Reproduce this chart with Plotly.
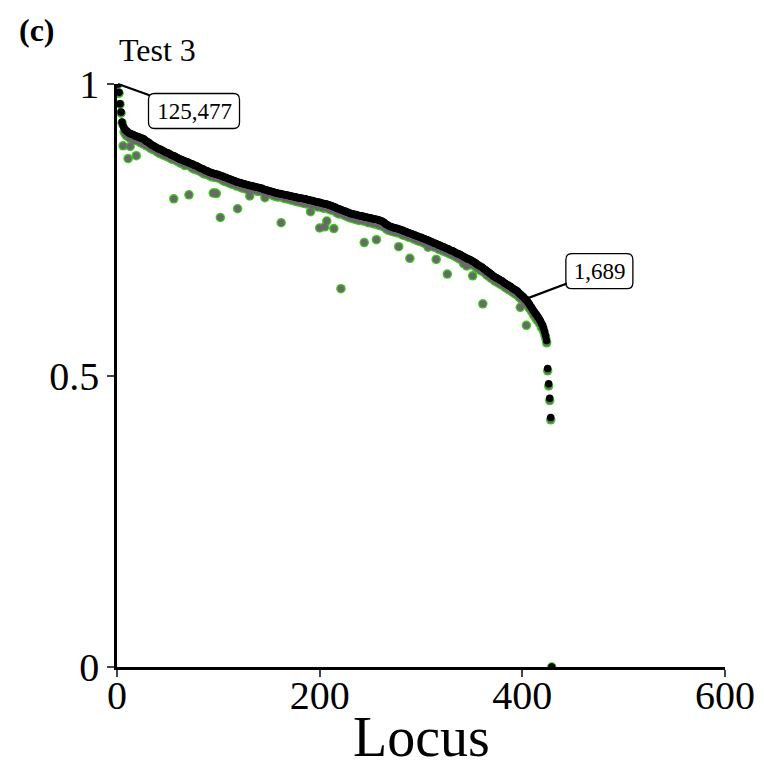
import plotly.graph_objects as go

# Per-locus scores, sorted on the black series (the fitted/ordered curve)
black_vals = [
    1.000, 0.986, 0.966, 0.952, 0.935, 0.928, 0.925, 0.922, 0.920, 0.919,
    0.917, 0.916, 0.915, 0.914, 0.914, 0.913, 0.912, 0.911, 0.911, 0.910,
    0.909, 0.909, 0.908, 0.907, 0.907, 0.906, 0.905, 0.903, 0.902, 0.901,
    0.900, 0.899, 0.897, 0.896, 0.895, 0.894, 0.893, 0.892, 0.891, 0.890,
    0.889, 0.888, 0.888, 0.887, 0.886, 0.885, 0.884, 0.883, 0.882, 0.882,
    0.881, 0.880, 0.879, 0.878, 0.877, 0.877, 0.876, 0.875, 0.874, 0.873,
    0.872, 0.871, 0.871, 0.870, 0.869, 0.868, 0.868, 0.867, 0.866, 0.866,
    0.865, 0.864, 0.863, 0.863, 0.862, 0.861, 0.860, 0.860, 0.859, 0.858,
    0.857, 0.856, 0.855, 0.855, 0.854, 0.853, 0.852, 0.851, 0.851, 0.850,
    0.849, 0.848, 0.848, 0.847, 0.847, 0.846, 0.846, 0.845, 0.845, 0.844,
    0.844, 0.843, 0.842, 0.842, 0.841, 0.840, 0.840, 0.839, 0.838, 0.838,
    0.837, 0.836, 0.836, 0.835, 0.834, 0.834, 0.833, 0.832, 0.832, 0.831,
    0.831, 0.830, 0.830, 0.829, 0.829, 0.828, 0.828, 0.827, 0.827, 0.826,
    0.826, 0.826, 0.825, 0.825, 0.824, 0.824, 0.823, 0.823, 0.823, 0.822,
    0.822, 0.821, 0.821, 0.820, 0.819, 0.819, 0.818, 0.818, 0.817, 0.817,
    0.816, 0.816, 0.815, 0.815, 0.814, 0.814, 0.813, 0.813, 0.812, 0.812,
    0.812, 0.811, 0.811, 0.811, 0.810, 0.810, 0.809, 0.809, 0.809, 0.808,
    0.808, 0.808, 0.807, 0.807, 0.806, 0.806, 0.806, 0.805, 0.805, 0.805,
    0.804, 0.804, 0.804, 0.803, 0.803, 0.803, 0.802, 0.802, 0.801, 0.801,
    0.800, 0.800, 0.800, 0.799, 0.799, 0.798, 0.798, 0.797, 0.797, 0.797,
    0.796, 0.796, 0.795, 0.795, 0.794, 0.794, 0.794, 0.793, 0.793, 0.792,
    0.791, 0.791, 0.790, 0.789, 0.789, 0.788, 0.787, 0.786, 0.786, 0.785,
    0.784, 0.784, 0.783, 0.782, 0.782, 0.781, 0.780, 0.780, 0.779, 0.778,
    0.778, 0.777, 0.777, 0.776, 0.776, 0.776, 0.775, 0.775, 0.774, 0.774,
    0.774, 0.773, 0.773, 0.772, 0.772, 0.772, 0.771, 0.771, 0.770, 0.770,
    0.770, 0.769, 0.769, 0.768, 0.768, 0.768, 0.767, 0.767, 0.766, 0.766,
    0.765, 0.764, 0.763, 0.762, 0.760, 0.759, 0.758, 0.757, 0.756, 0.755,
    0.755, 0.754, 0.754, 0.753, 0.753, 0.752, 0.752, 0.751, 0.751, 0.750,
    0.749, 0.749, 0.748, 0.747, 0.747, 0.746, 0.745, 0.745, 0.744, 0.743,
    0.743, 0.742, 0.741, 0.741, 0.740, 0.739, 0.739, 0.738, 0.737, 0.737,
    0.736, 0.735, 0.735, 0.734, 0.733, 0.733, 0.732, 0.731, 0.730, 0.730,
    0.729, 0.728, 0.727, 0.727, 0.726, 0.725, 0.724, 0.724, 0.723, 0.722,
    0.721, 0.721, 0.720, 0.719, 0.718, 0.718, 0.717, 0.716, 0.715, 0.714,
    0.714, 0.713, 0.712, 0.711, 0.710, 0.709, 0.709, 0.708, 0.707, 0.706,
    0.705, 0.704, 0.703, 0.702, 0.701, 0.700, 0.700, 0.699, 0.698, 0.697,
    0.696, 0.695, 0.694, 0.693, 0.691, 0.690, 0.689, 0.688, 0.687, 0.686,
    0.685, 0.683, 0.682, 0.681, 0.679, 0.678, 0.677, 0.675, 0.674, 0.673,
    0.671, 0.670, 0.669, 0.668, 0.667, 0.666, 0.665, 0.664, 0.663, 0.662,
    0.661, 0.659, 0.658, 0.657, 0.656, 0.655, 0.654, 0.653, 0.652, 0.650,
    0.649, 0.648, 0.647, 0.646, 0.645, 0.643, 0.641, 0.639, 0.638, 0.636,
    0.635, 0.633, 0.631, 0.630, 0.627, 0.625, 0.622, 0.619, 0.617, 0.614,
    0.611, 0.609, 0.606, 0.604, 0.601, 0.599, 0.596, 0.593, 0.589, 0.586,
    0.581, 0.575, 0.568, 0.560, 0.512, 0.486, 0.461, 0.428, 0.000,
]

# Second score at the same loci (grey points with green rim)
grey_vals = [
    1.000, 0.984, 0.965, 0.950, 0.933, 0.894, 0.918, 0.915, 0.912, 0.911,
    0.872, 0.908, 0.893, 0.906, 0.905, 0.907, 0.903, 0.904, 0.877, 0.903,
    0.902, 0.905, 0.900, 0.899, 0.903, 0.897, 0.898, 0.897, 0.894, 0.896,
    0.893, 0.895, 0.890, 0.892, 0.888, 0.890, 0.887, 0.886, 0.887, 0.883,
    0.885, 0.881, 0.884, 0.880, 0.882, 0.878, 0.880, 0.877, 0.879, 0.875,
    0.877, 0.874, 0.876, 0.871, 0.873, 0.803, 0.870, 0.871, 0.868, 0.869,
    0.866, 0.868, 0.864, 0.866, 0.863, 0.865, 0.860, 0.863, 0.861, 0.862,
    0.810, 0.859, 0.860, 0.856, 0.858, 0.854, 0.857, 0.853, 0.855, 0.852,
    0.854, 0.850, 0.852, 0.848, 0.851, 0.846, 0.849, 0.845, 0.847, 0.846,
    0.843, 0.845, 0.841, 0.844, 0.813, 0.840, 0.813, 0.812, 0.839, 0.840,
    0.838, 0.771, 0.838, 0.835, 0.837, 0.833, 0.836, 0.832, 0.834, 0.831,
    0.833, 0.829, 0.832, 0.828, 0.830, 0.827, 0.829, 0.825, 0.786, 0.826,
    0.824, 0.826, 0.822, 0.825, 0.821, 0.824, 0.820, 0.823, 0.819, 0.821,
    0.808, 0.821, 0.819, 0.821, 0.818, 0.820, 0.817, 0.819, 0.816, 0.818,
    0.816, 0.818, 0.815, 0.817, 0.814, 0.805, 0.813, 0.815, 0.812, 0.814,
    0.811, 0.813, 0.810, 0.812, 0.808, 0.811, 0.807, 0.810, 0.806, 0.808,
    0.807, 0.762, 0.806, 0.808, 0.804, 0.807, 0.803, 0.806, 0.804, 0.802,
    0.804, 0.801, 0.803, 0.800, 0.802, 0.799, 0.803, 0.798, 0.801, 0.800,
    0.797, 0.800, 0.796, 0.799, 0.795, 0.798, 0.796, 0.794, 0.797, 0.795,
    0.781, 0.793, 0.795, 0.792, 0.794, 0.791, 0.793, 0.789, 0.792, 0.753,
    0.790, 0.788, 0.791, 0.787, 0.755, 0.789, 0.765, 0.786, 0.788, 0.785,
    0.784, 0.787, 0.783, 0.752, 0.782, 0.784, 0.779, 0.781, 0.777, 0.780,
    0.649, 0.778, 0.776, 0.778, 0.774, 0.777, 0.773, 0.775, 0.771, 0.774,
    0.770, 0.773, 0.769, 0.771, 0.768, 0.772, 0.767, 0.770, 0.766, 0.769,
    0.767, 0.769, 0.765, 0.728, 0.767, 0.764, 0.766, 0.762, 0.765, 0.763,
    0.764, 0.761, 0.763, 0.760, 0.762, 0.733, 0.761, 0.758, 0.760, 0.757,
    0.759, 0.756, 0.757, 0.754, 0.755, 0.751, 0.753, 0.749, 0.751, 0.748,
    0.750, 0.747, 0.749, 0.746, 0.748, 0.745, 0.747, 0.721, 0.746, 0.743,
    0.744, 0.741, 0.743, 0.740, 0.742, 0.739, 0.740, 0.737, 0.701, 0.738,
    0.736, 0.738, 0.734, 0.736, 0.733, 0.735, 0.731, 0.734, 0.730, 0.732,
    0.729, 0.731, 0.727, 0.730, 0.726, 0.728, 0.720, 0.727, 0.723, 0.725,
    0.722, 0.724, 0.720, 0.723, 0.699, 0.721, 0.717, 0.719, 0.716, 0.718,
    0.714, 0.717, 0.713, 0.715, 0.711, 0.674, 0.710, 0.712, 0.708, 0.710,
    0.707, 0.709, 0.705, 0.707, 0.703, 0.705, 0.701, 0.703, 0.699, 0.701,
    0.698, 0.692, 0.696, 0.697, 0.688, 0.695, 0.693, 0.694, 0.690, 0.692,
    0.671, 0.689, 0.690, 0.686, 0.687, 0.683, 0.684, 0.681, 0.682, 0.679,
    0.623, 0.678, 0.676, 0.677, 0.672, 0.674, 0.670, 0.671, 0.667, 0.669,
    0.665, 0.667, 0.662, 0.664, 0.660, 0.662, 0.658, 0.660, 0.656, 0.658,
    0.654, 0.656, 0.651, 0.653, 0.649, 0.651, 0.647, 0.649, 0.645, 0.647,
    0.642, 0.644, 0.640, 0.642, 0.638, 0.639, 0.634, 0.617, 0.631, 0.632,
    0.628, 0.629, 0.624, 0.586, 0.620, 0.621, 0.615, 0.615, 0.610, 0.610,
    0.604, 0.605, 0.599, 0.600, 0.594, 0.595, 0.589, 0.589, 0.582, 0.582,
    0.576, 0.570, 0.564, 0.556, 0.508, 0.482, 0.457, 0.424, 0.000,
]

locus = list(range(1, len(black_vals) + 1))

# Callout labels attached to loci on the black series
label_loci = [1, 403]
label_texts = ["125,477", "1,689"]
label_offsets = [(76, 27), (74, -28)]   # text box centre offset from the point, px
label_box_w = [91, 67]                  # outer box width, px
LABEL_BOX_H = 35

x_ticks = [0, 200, 400, 600]
y_ticks = [0, 0.5, 1]
y_ticktext = ["0", "0.5", "1"]

SERIF = "Liberation Serif"
GREEN = "#3cc81e"
W, H = 764, 768
L, R, T, B = 117, 39, 84, 101

fig = go.Figure()
# green halo layer, then the grey fill, then the black series on top
fig.add_trace(go.Scatter(
    x=locus, y=grey_vals, mode="markers",
    marker=dict(size=9.5, color=GREEN, line=dict(width=0)),
    showlegend=False, hoverinfo="skip",
))
fig.add_trace(go.Scatter(
    x=locus, y=grey_vals, mode="markers",
    marker=dict(size=6.8, color="#696969", line=dict(width=0)),
    showlegend=False, hoverinfo="x+y",
))
fig.add_trace(go.Scatter(
    x=locus, y=black_vals, mode="markers",
    marker=dict(size=7.5, color="black", line=dict(width=0)),
    showlegend=False, hoverinfo="x+y",
))


def rounded_box(cx, cy, w, h, r):
    x0, x1 = cx - w / 2, cx + w / 2
    y0, y1 = cy - h / 2, cy + h / 2
    return (f"M {x0 + r} {y0} L {x1 - r} {y0} Q {x1} {y0} {x1} {y0 + r} "
            f"L {x1} {y1 - r} Q {x1} {y1} {x1 - r} {y1} "
            f"L {x0 + r} {y1} Q {x0} {y1} {x0} {y1 - r} "
            f"L {x0} {y0 + r} Q {x0} {y0} {x0 + r} {y0} Z")


annotations = []
shapes = []
for loc, txt, (ax, ay), bw in zip(label_loci, label_texts, label_offsets, label_box_w):
    yv = black_vals[loc - 1]
    annotations.append(dict(
        x=loc, y=yv, xref="x", yref="y",
        text=txt, showarrow=True, arrowhead=0, arrowwidth=2.2,
        arrowcolor="black", ax=ax, ay=ay,
        width=bw - 2, height=LABEL_BOX_H - 2, borderpad=0,
        font=dict(family=SERIF, size=23, color="black"),
        bgcolor="rgba(0,0,0,0)", borderwidth=0,
    ))
    shapes.append(dict(
        type="path", xref="x", yref="y",
        xsizemode="pixel", ysizemode="pixel", xanchor=loc, yanchor=yv,
        path=rounded_box(ax, -ay, bw, LABEL_BOX_H, 6),
        line=dict(color="black", width=1.3), fillcolor="white", layer="above",
    ))

pw = W - L - R
annotations.append(dict(
    text="Test 3", xref="paper", yref="paper", x=0, y=1,
    xanchor="left", yanchor="middle", yshift=34, showarrow=False,
    font=dict(family=SERIF, size=32, color="black"),
))
annotations.append(dict(
    text="<b>(c)</b>", xref="paper", yref="paper",
    x=(17 - L) / pw, y=1, xanchor="left", yanchor="middle",
    yshift=T - 30, showarrow=False,
    font=dict(family=SERIF, size=32, color="black"),
))
# x-axis title
annotations.append(dict(
    text="Locus", xref="paper", yref="paper", x=0.5, y=0,
    xanchor="center", yanchor="middle", yshift=-70, showarrow=False,
    font=dict(family=SERIF, size=56, color="black"),
))

axis_common = dict(
    showgrid=False, zeroline=False, showline=True, automargin=False,
    linecolor="black", linewidth=2.5,
    ticks="outside", ticklen=7, tickwidth=2, tickcolor="#444",
    tickfont=dict(family=SERIF, size=40, color="black"),
)

fig.update_layout(
    width=W, height=H,
    margin=dict(l=L, r=R, t=T, b=B, pad=0),
    paper_bgcolor="white", plot_bgcolor="white",
    xaxis=dict(range=[0, 600], tickvals=x_ticks, ticklabelstandoff=-16, **axis_common),
    yaxis=dict(range=[0, 1], tickvals=y_ticks, ticktext=y_ticktext, **axis_common),
    annotations=annotations,
    shapes=shapes,
)

fig.write_html("out.html")
